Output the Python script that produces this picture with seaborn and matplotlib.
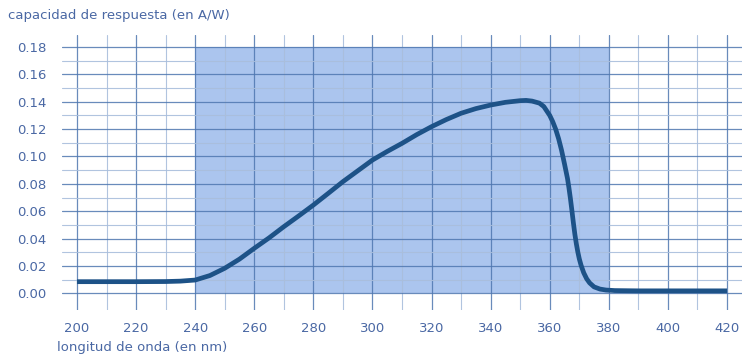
import numpy as np
import pandas as pd
import matplotlib
matplotlib.use("Agg")
import matplotlib.pyplot as plt
import seaborn as sns

# Spectral responsivity of the sensor (A/W) versus wavelength (nm)
wavelength = [200, 210, 220, 230, 235, 240, 245, 250, 255, 260, 265, 270, 275,
              280, 285, 290, 295, 300, 305, 310, 315, 320, 325, 330, 335, 340,
              345, 350, 352, 354, 356.5, 358, 360, 361, 362, 363, 364, 365,
              366, 366.5, 367, 367.5, 368, 368.5, 369, 369.5, 370, 370.6,
              371.5, 372.5, 373.5, 375, 377, 379, 382, 386, 390, 400, 410, 420]
responsivity = [0.0085, 0.0085, 0.0085, 0.0086, 0.0089, 0.0097, 0.0130, 0.0183,
                0.0250, 0.0329, 0.0405, 0.0487, 0.0565, 0.0645, 0.0730, 0.0816,
                0.0895, 0.0974, 0.1037, 0.1096, 0.1160, 0.1218, 0.1270, 0.1316,
                0.1350, 0.1376, 0.1396, 0.1408, 0.1410, 0.1405, 0.1390, 0.1365,
                0.1300, 0.1255, 0.1200, 0.1130, 0.1045, 0.0945, 0.0840, 0.0770,
                0.0692, 0.0605, 0.0515, 0.0432, 0.0362, 0.0302, 0.0252, 0.0205,
                0.0150, 0.0106, 0.0076, 0.0047, 0.0031, 0.0024, 0.0020, 0.0019,
                0.0018, 0.0018, 0.0018, 0.0018]

band_start, band_end = 240, 380
band_top = 0.18

x_ticks = [200, 220, 240, 260, 280, 300, 320, 340, 360, 380, 400, 420]
y_ticks = [0.00, 0.02, 0.04, 0.06, 0.08, 0.10, 0.12, 0.14, 0.16, 0.18]

df = pd.DataFrame({"wavelength": wavelength, "responsivity": responsivity})

sns.set_style("white")
plt.rcParams["font.family"] = ["DejaVu Sans"]

text_color = "#4a68a4"
line_color = "#1d5287"
major_grid = "#4f77b0"
minor_grid = "#a9bedc"
band_color = "#abc5ee"

fig = plt.figure(figsize=(7.43, 3.56), dpi=100)
ax = fig.add_axes([0.0837, 0.1292, 0.9147, 0.7725])

ax.fill_between([band_start, band_end], 0, band_top, color=band_color,
                zorder=0.2, linewidth=0)

sns.lineplot(data=df, x="wavelength", y="responsivity", ax=ax,
             color=line_color, linewidth=3.4, zorder=3,
             solid_capstyle="butt", solid_joinstyle="round")

ax.set_xlim(195, 425)
ax.set_ylim(-0.0122, 0.1888)

ax.set_xticks(x_ticks)
ax.set_xticks(np.arange(210, 420, 20), minor=True)
ax.set_yticks(y_ticks)
ax.set_yticks(np.arange(0.01, 0.18, 0.02), minor=True)
ax.set_xticklabels([str(v) for v in x_ticks])
ax.set_yticklabels([f"{v:.2f}" for v in y_ticks])

ax.set_axisbelow(True)
ax.grid(which="major", color=major_grid, linewidth=0.9, alpha=0.85)
ax.grid(which="minor", color=minor_grid, linewidth=0.8, alpha=0.9)

for s in ax.spines.values():
    s.set_visible(False)

ax.tick_params(which="both", length=0)
ax.tick_params(axis="x", pad=8.5, labelsize=9.5, labelcolor=text_color)
ax.tick_params(axis="y", pad=11.5, labelsize=9.5, labelcolor=text_color)

ax.set_xlabel("")
ax.set_ylabel("")
fig.text(8 / 743, 1 - 15 / 356, "capacidad de respuesta (en A/W)",
         color=text_color, fontsize=9.5, va="center", ha="left")
fig.text(57 / 743, 1 - 348 / 356, "longitud de onda (en nm)",
         color=text_color, fontsize=9.5, va="center", ha="left")

fig.savefig("out.png", dpi=100)
